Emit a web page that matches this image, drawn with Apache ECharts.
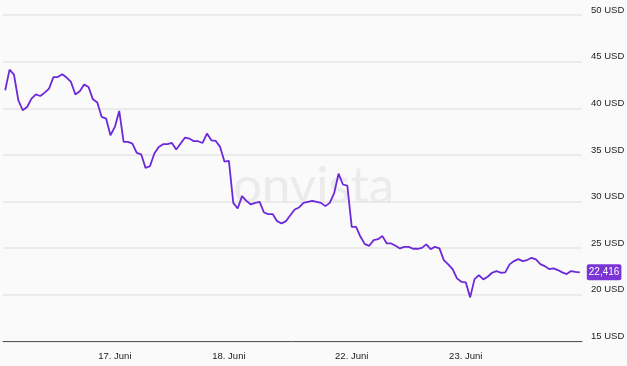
<!DOCTYPE html>
<html><head><meta charset="utf-8">
<script src="https://cdn.jsdelivr.net/npm/echarts@6/dist/echarts.min.js"></script>
<style>html,body{margin:0;padding:0;background:#fafafa}#c{width:627px;height:366px}</style>
</head><body><div id="c"></div>
<script>
const dayLabels = ['16. Juni', '17. Juni', '18. Juni', '22. Juni', '23. Juni'];
const pointsPerDay = [25, 26, 28, 26, 27];
const prices = [
 41.93,44.14,43.61,40.86,39.79,40.14,41.04,41.50,41.32,41.68,
 42.11,43.35,43.35,43.64,43.29,42.82,41.47,41.82,42.54,42.28,
 40.96,40.61,39.07,38.90,37.11,38.00,39.71,36.39,36.39,36.22,
 35.21,35.07,33.61,33.79,35.15,35.86,36.15,36.15,36.28,35.58,
 36.22,36.86,36.76,36.47,36.47,36.28,37.29,36.57,36.50,35.86,
 34.27,34.36,29.86,29.26,30.58,30.07,29.69,29.86,29.97,28.83,
 28.65,28.65,27.90,27.65,27.90,28.54,29.15,29.37,29.86,29.97,
 30.07,29.97,29.86,29.51,29.86,30.90,32.99,31.83,31.70,27.29,
 27.29,26.22,25.44,25.26,25.87,25.97,26.30,25.51,25.51,25.26,
 24.98,25.15,25.15,24.94,24.94,25.04,25.41,24.90,25.15,24.98,
 23.73,23.27,22.76,21.77,21.40,21.34,19.73,21.69,22.12,21.66,
 21.94,22.37,22.55,22.37,22.41,23.27,23.62,23.83,23.62,23.73,
 23.97,23.80,23.30,23.08,22.76,22.84,22.66,22.41,22.23,22.55,
 22.47,22.416
];
const yTicks = [15, 20, 25, 30, 35, 40, 45, 50];
const unit = 'USD';

const categories = [];
const dayStart = new Set();
dayLabels.forEach((d, k) => {
  dayStart.add(categories.length);
  for (let j = 0; j < pointsPerDay[k]; j++) categories.push(d);
});
const showTick = (i) => i > 0 && dayStart.has(i);
const FONT = '"Liberation Sans", Arial, sans-serif';

const chart = echarts.init(document.getElementById('c'), null, {renderer: 'canvas'});
chart.setOption({
  backgroundColor: '#fafafa',
  animation: false,
  graphic: [{
    type: 'text', left: 233, top: 161, z: 0, silent: true,
    style: {text: 'onvista', fontSize: 51, fontFamily: 'Lato', fontWeight: 400, fill: '#ebebeb'}
  }],
  grid: {left: 3, right: 45, top: 15, bottom: 24.5, containLabel: false, outerBoundsMode: 'none'},
  xAxis: {
    type: 'category', data: categories, boundaryGap: true,
    axisLine: {lineStyle: {color: '#555', width: 1}},
    axisTick: {alignWithLabel: true, interval: showTick, length: 5, lineStyle: {color: '#555'}},
    axisLabel: {interval: showTick, color: '#222', fontSize: 9.5, fontFamily: FONT, margin: 10},
    splitLine: {show: false}
  },
  yAxis: {
    type: 'value', position: 'right', min: yTicks[0], max: yTicks[yTicks.length - 1], interval: 5,
    axisLine: {show: false}, axisTick: {show: false},
    axisLabel: {formatter: v => v + ' ' + unit, color: '#222', fontSize: 9.5, fontFamily: FONT,
      margin: 9, verticalAlign: 'bottom'},
    splitLine: {lineStyle: {color: '#e6e6e6', width: 1.5}}
  },
  series: [{
    type: 'line', data: prices, symbol: 'none', z: 3,
    lineStyle: {color: '#6d28d9', width: 1.8},
    endLabel: {
      show: true, distance: 7,
      formatter: p => String(p.value).replace('.', ','),
      backgroundColor: '#7b35d6', color: '#fff', fontSize: 10, fontFamily: FONT,
      padding: [3, 2, 3, 2], borderRadius: 2
    }
  }]
});
</script></body></html>
